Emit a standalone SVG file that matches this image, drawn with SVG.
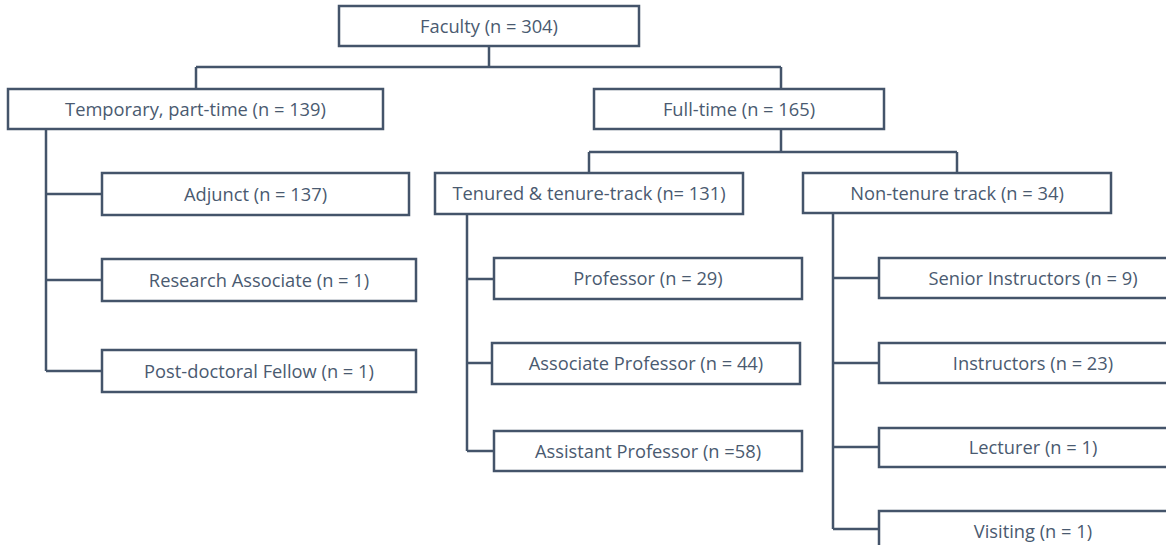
<svg xmlns="http://www.w3.org/2000/svg" width="1166" height="545" viewBox="0 0 1166 545">
<style>
rect{fill:#fff;stroke:#44546A;stroke-width:2.5}
.c path{fill:none;stroke:#44546A;stroke-width:2.5}
text{font-family:"Open Sans","Noto Sans",sans-serif;font-size:18.3px;fill:#4A5A70;text-anchor:middle}
</style>
<rect x="0" y="0" width="1166" height="545" style="stroke:none"/>
<g class="c" id="connectors">
<path d="M489 46V67M196 67H781M196 67V89M781 67V89"/>
<path d="M46 129V371M46 194H102M46 280H102M46 371H102"/>
<path d="M781 129V152M589 152H957M589 152V173M957 152V173"/>
<path d="M467 214V451M467 279H494M467 363H492M467 451H494"/>
<path d="M833 213V529M833 278H879M833 363H879M833 447H879M833 529H879"/>
</g>
<g id="faculty"><rect x="339" y="6" width="300" height="40"/><text x="489" y="32.5">Faculty (n = 304)</text></g>
<g id="temporary"><rect x="8" y="89" width="375" height="40"/><text x="195.5" y="115.5">Temporary, part-time (n = 139)</text></g>
<g id="fulltime"><rect x="594" y="89" width="290" height="40"/><text x="739" y="115.5">Full-time (n = 165)</text></g>
<g id="adjunct"><rect x="102" y="173" width="307" height="42"/><text x="255.5" y="200.5">Adjunct (n = 137)</text></g>
<g id="research"><rect x="102" y="259" width="314" height="42"/><text x="259" y="286.5">Research Associate (n = 1)</text></g>
<g id="postdoc"><rect x="102" y="350" width="314" height="42"/><text x="259" y="377.5">Post-doctoral Fellow (n = 1)</text></g>
<g id="tenured"><rect x="435" y="173" width="308" height="41"/><text x="589" y="200">Tenured &amp; tenure-track (n= 131)</text></g>
<g id="nontenure"><rect x="803" y="173" width="308" height="40"/><text x="957" y="199.5">Non-tenure track (n = 34)</text></g>
<g id="professor"><rect x="494" y="258" width="308" height="41"/><text x="648" y="285">Professor (n = 29)</text></g>
<g id="associate"><rect x="492" y="343" width="308" height="41"/><text x="646" y="370">Associate Professor (n = 44)</text></g>
<g id="assistant"><rect x="494" y="431" width="308" height="40"/><text x="648" y="457.5">Assistant Professor (n =58)</text></g>
<g id="senior"><rect x="879" y="258" width="308" height="40"/><text x="1033" y="284.5">Senior Instructors (n = 9)</text></g>
<g id="instructors"><rect x="879" y="343" width="308" height="40"/><text x="1033" y="369.5">Instructors (n = 23)</text></g>
<g id="lecturer"><rect x="879" y="428" width="308" height="39"/><text x="1033" y="454">Lecturer (n = 1)</text></g>
<g id="visiting"><rect x="879" y="511" width="308" height="40"/><text x="1033" y="537.5">Visiting (n = 1)</text></g>
</svg>
